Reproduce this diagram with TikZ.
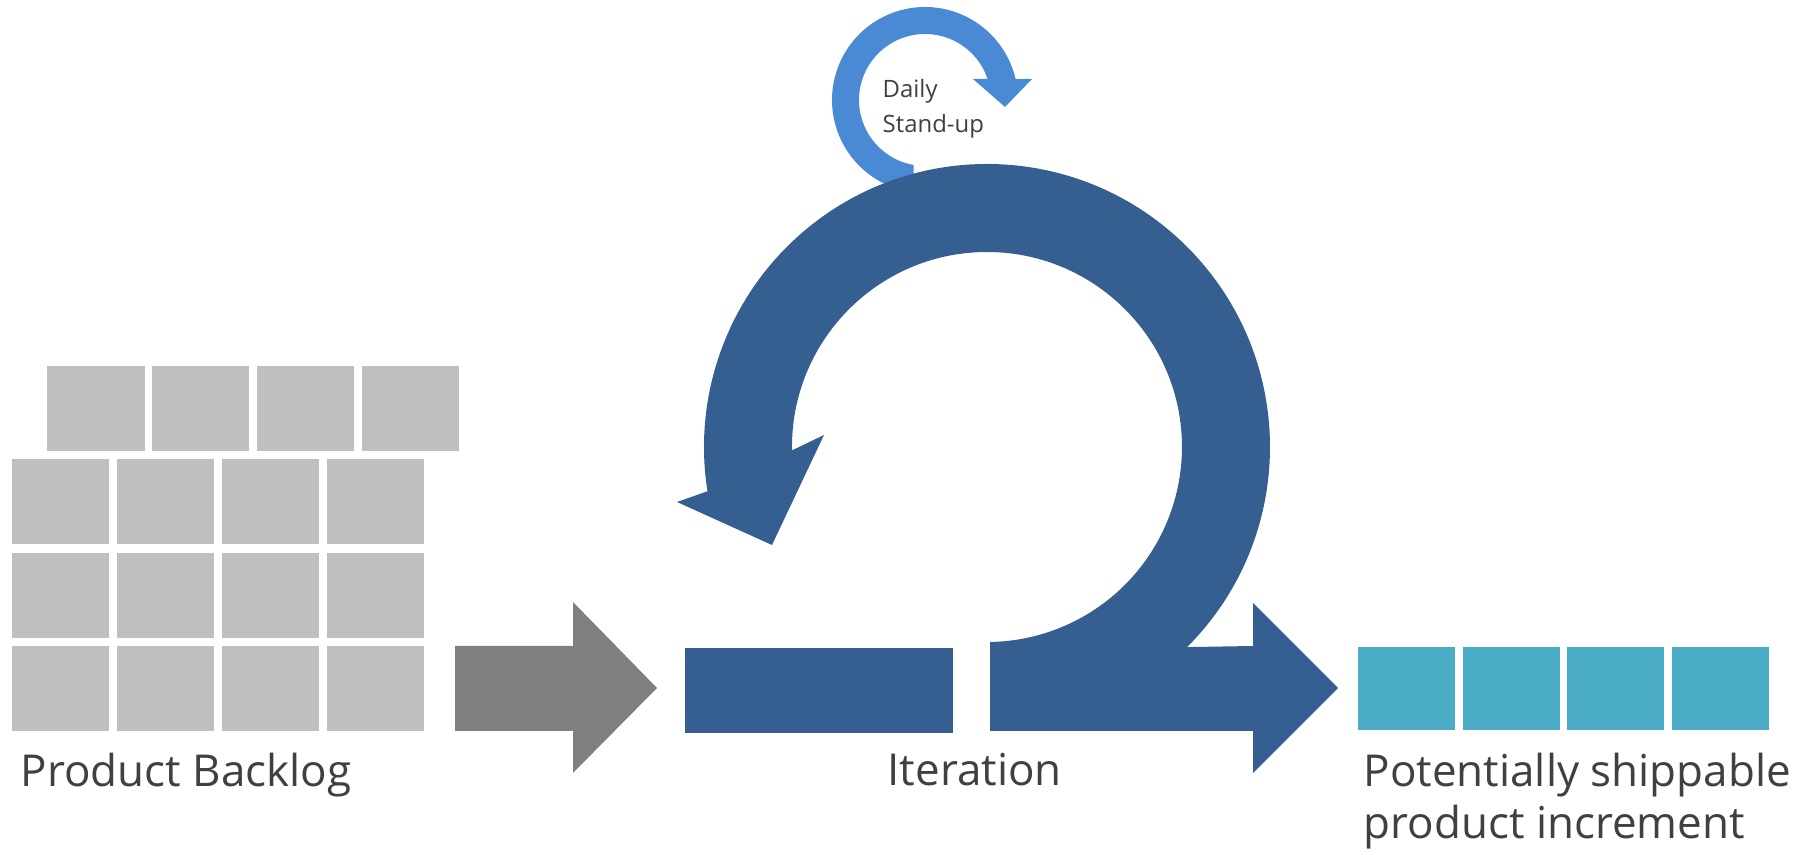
\documentclass[tikz,border=0pt]{standalone}
\usepackage{fontspec}
\setmainfont{Open Sans}
\definecolor{ringblue}{RGB}{54,95,145}
\definecolor{standupblue}{RGB}{74,137,212}
\definecolor{backloggray}{RGB}{191,191,191}
\definecolor{arrowgray}{RGB}{127,127,127}
\definecolor{incteal}{RGB}{75,172,198}
\definecolor{labelgray}{RGB}{64,64,64}
\tikzset{
  btile/.style={rectangle, fill=backloggray, draw=none, inner sep=0pt, minimum width=0.97cm, minimum height=0.85cm},
  ttile/.style={rectangle, fill=incteal, draw=none, inner sep=0pt, minimum width=0.97cm, minimum height=0.83cm},
  biglabel/.style={anchor=base west, inner sep=0pt, text=labelgray, font=\fontsize{12.5}{15}\selectfont},
  smalllabel/.style={anchor=base west, inner sep=0pt, text=labelgray, font=\fontsize{6.8}{8}\selectfont},
}
\begin{document}
\begin{tikzpicture}[x=0.01cm,y=-0.01cm]
\useasboundingbox (0,0) rectangle (1808,855);
\fill[white] (0,0) rectangle (1808,855);

% Product backlog tiles
\foreach \i in {0,1,2,3}{
  \node[btile] (bt\i) at ({96+104.7*\i},408.5) {};
}
\foreach \r in {1,2,3}{
  \foreach \i in {0,1,2,3}{
    \node[btile] (b\r\i) at ({60.5+105*\i},{408.5+93.3*\r}) {};
  }
}
\node[biglabel] (backlog) at (20,787) {Product Backlog};

% Gray arrow
\fill[arrowgray] (455,646) -- (573,646) -- (573,602) -- (657,688) -- (573,773) -- (573,731) -- (455,731) -- cycle;

% Daily stand-up arrow (behind the big loop)
\fill[standupblue] (913.5,185) -- (893.2,187.4) arc[start angle=110, end angle=346.95, radius=93]
  -- (1032,79) -- (1005,107) -- (973,79) -- (987.57,79)
  arc[start angle=341.45, end angle=100, radius=66] -- cycle;
\node[smalllabel] (daily) at (882,98) {Daily};
\node[smalllabel] (standup) at (882,133) {Stand-up};

% Iteration bar (left part)
\fill[ringblue] (685,648) rectangle (953,733);

% Big loop with exit arrow
\fill[ringblue] (990,731) -- (1253,731) -- (1253,773) -- (1338,688) -- (1253,603) -- (1253,646)
  -- (1187.1,647.1) arc[start angle=45, end angle=-189, radius=283]
  -- (677,502) -- (772,545) -- (824,435) -- (792.0,450.4)
  arc[start angle=-181, end angle=89.1, radius=195] -- cycle;
\node[biglabel] (iteration) at (887,786) {Iteration};

% Increment tiles
\foreach \i in {0,1,2,3}{
  \node[ttile] (t\i) at ({1406.5+104.7*\i},688.5) {};
}
\node[biglabel] (inc1) at (1363,787) {Potentially shippable};
\node[biglabel] (inc2) at (1363,839) {product increment};
\end{tikzpicture}
\end{document}
